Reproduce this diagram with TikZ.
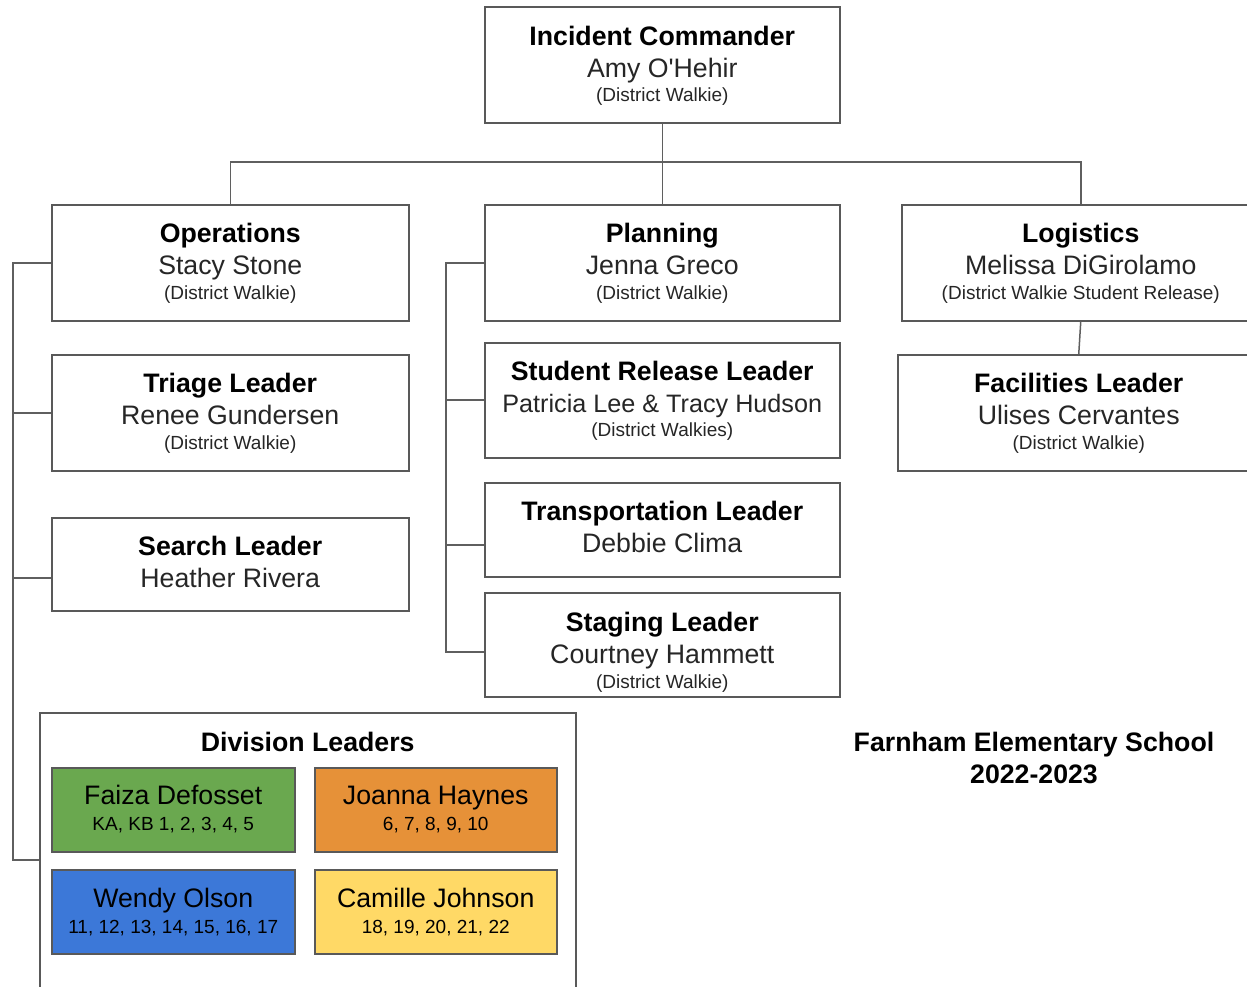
\documentclass[tikz,border=0pt]{standalone}
\usepackage{fontspec}
\setmainfont{Liberation Sans}
\newfontfamily\noligfont{Liberation Sans}
\usetikzlibrary{calc}
\definecolor{boxline}{HTML}{595959}
\definecolor{connc}{HTML}{5F5F5F}
\definecolor{txt}{HTML}{262626}
\definecolor{fgreen}{HTML}{6AA84F}
\definecolor{forange}{HTML}{E69138}
\definecolor{fblue}{HTML}{3C78D8}
\definecolor{fyellow}{HTML}{FFD966}
\begin{document}
\begin{tikzpicture}[x=1pt,y=-1pt,
  box/.style={draw=boxline, line width=1.5pt, anchor=north west, inner sep=0pt, fill=white},
  ttl/.style={anchor=base, font=\fontsize{26.7}{30}\selectfont\bfseries, text=black, inner sep=0pt},
  nm/.style={anchor=base, font=\fontsize{26.7}{30}\selectfont, text=txt, inner sep=0pt},
  sm/.style={anchor=base, font=\fontsize{19}{22}\selectfont, text=txt, inner sep=0pt},
  conn/.style={draw=connc, line width=1.5pt}]
\useasboundingbox (0,0) rectangle (1247,986);

% boxes
\node[box, minimum width=355pt, minimum height=116pt] (ic) at (484,6) {};
\node[box, minimum width=357pt, minimum height=116pt] (ops) at (51,204) {};
\node[box, minimum width=355pt, minimum height=116pt] (plan) at (484,204) {};
\node[box, minimum width=358pt, minimum height=116pt] (log) at (901,204) {};
\node[box, minimum width=362pt, minimum height=116pt] (fac) at (897,354) {};
\node[box, minimum width=357pt, minimum height=116pt] (tri) at (51,354) {};
\node[box, minimum width=357pt, minimum height=93pt] (srch) at (51,517) {};
\node[box, minimum width=355pt, minimum height=115pt] (srl) at (484,342) {};
\node[box, minimum width=355pt, minimum height=94pt] (trn) at (484,482) {};
\node[box, minimum width=355pt, minimum height=104pt] (stg) at (484,592) {};
\node[box, minimum width=536pt, minimum height=300pt] (div) at (39,712) {};
\node[box, fill=fgreen, minimum width=243pt, minimum height=84pt] (fz) at (51,767) {};
\node[box, fill=forange, minimum width=242pt, minimum height=84pt] (jh) at (314,767) {};
\node[box, fill=fblue, minimum width=243pt, minimum height=84pt] (wo) at (51,869) {};
\node[box, fill=fyellow, minimum width=242pt, minimum height=84pt] (cj) at (314,869) {};

% texts
\node[ttl] (ict) at ($(ic.north)+(0,39)$) {Incident Commander};
\node[nm]  (icn) at ($(ic.north)+(0,71)$) {Amy O{\noligfont'}Hehir};
\node[sm]  (ics) at ($(ic.north)+(0,95.5)$) {(District Walkie)};

\node[ttl] (opst) at ($(ops.north)+(0,38.5)$) {Operations};
\node[nm]  (opsn) at ($(ops.north)+(0,70.5)$) {Stacy Stone};
\node[sm]  (opss) at ($(ops.north)+(0,95.5)$) {(District Walkie)};

\node[ttl] (plant) at ($(plan.north)+(0,38.5)$) {Planning};
\node[nm]  (plann) at ($(plan.north)+(0,70.5)$) {Jenna Greco};
\node[sm]  (plans) at ($(plan.north)+(0,95.5)$) {(District Walkie)};

\node[ttl] (logt) at ($(log.north)+(0,38.5)$) {Logistics};
\node[nm]  (logn) at ($(log.north)+(0,70.5)$) {Melissa DiGirolamo};
\node[sm]  (logs) at ($(log.north)+(0,95.5)$) {(District Walkie Student Release)};

\node[ttl] (fact) at ($(fac.north)+(0,38.5)$) {Facilities Leader};
\node[nm]  (facn) at ($(fac.north)+(0,70.5)$) {Ulises Cervantes};
\node[sm]  (facs) at ($(fac.north)+(0,95.5)$) {(District Walkie)};

\node[ttl] (trit) at ($(tri.north)+(0,38.5)$) {Triage Leader};
\node[nm]  (trin) at ($(tri.north)+(0,70.5)$) {Renee Gundersen};
\node[sm]  (tris) at ($(tri.north)+(0,95.5)$) {(District Walkie)};

\node[ttl] (srcht) at ($(srch.north)+(0,38.5)$) {Search Leader};
\node[nm]  (srchn) at ($(srch.north)+(0,70.5)$) {Heather Rivera};

\node[ttl] (srlt) at ($(srl.north)+(0,38.5)$) {Student Release Leader};
\node[nm, font=\fontsize{25.2}{30}\selectfont]  (srln) at ($(srl.north)+(0,70)$) {Patricia Lee \& Tracy Hudson};
\node[sm]  (srls) at ($(srl.north)+(0,94.5)$) {(District Walkies)};

\node[ttl] (trnt) at ($(trn.north)+(0,38.5)$) {Transportation Leader};
\node[nm]  (trnn) at ($(trn.north)+(0,70.5)$) {Debbie Clima};

\node[ttl] (stgt) at ($(stg.north)+(0,39.5)$) {Staging Leader};
\node[nm]  (stgn) at ($(stg.north)+(0,71.5)$) {Courtney Hammett};
\node[sm]  (stgs) at ($(stg.north)+(0,96)$) {(District Walkie)};

\node[ttl] (divt) at ($(div.north)+(0,39)$) {Division Leaders};
\node[nm, text=black] (fzn) at ($(fz.north)+(0,37.5)$) {Faiza Defosset};
\node[sm, text=black] (fzs) at ($(fz.north)+(0,63.5)$) {KA, KB 1, 2, 3, 4, 5};
\node[nm, text=black] (jhn) at ($(jh.north)+(0,37.5)$) {Joanna Haynes};
\node[sm, text=black] (jhs) at ($(jh.north)+(0,63.5)$) {6, 7, 8, 9, 10};
\node[nm, text=black] (won) at ($(wo.north)+(0,38)$) {Wendy Olson};
\node[sm, text=black] (wos) at ($(wo.north)+(0,64)$) {11, 12, 13, 14, 15, 16, 17};
\node[nm, text=black] (cjn) at ($(cj.north)+(0,38)$) {Camille Johnson};
\node[sm, text=black] (cjs) at ($(cj.north)+(0,64)$) {18, 19, 20, 21, 22};

\node[ttl] (school) at (1034,751) {Farnham Elementary School};
\node[ttl] (year) at (1034,783) {2022-2023};

% connector coordinates
\coordinate (bar) at (0,162);
\coordinate (lsp) at (13,0);
\coordinate (psp) at (446,0);
\coordinate (srchin) at ($(srch.north west)+(0,61)$);
\coordinate (srlin) at ($(srl.north west)+(0,58)$);
\coordinate (trnin) at ($(trn.north west)+(0,63)$);
\coordinate (stgin) at ($(stg.north west)+(0,60)$);
\coordinate (divin) at ($(div.north west)+(0,148)$);

% connectors
\draw[conn] (ic.south) -- (plan.north);
\draw[conn] (ops.north) -- (ops.north |- bar) -- (log.north |- bar) -- (log.north);
\draw[conn] (log.south) -- (fac.north);
\draw[conn] (ops.west) -- (lsp |- ops.west) -- (lsp |- divin) -- (divin);
\draw[conn] (tri.west) -- (lsp |- tri.west);
\draw[conn] (srchin) -- (lsp |- srchin);
\draw[conn] (plan.west) -- (psp |- plan.west) -- (psp |- stgin) -- (stgin);
\draw[conn] (srlin) -- (psp |- srlin);
\draw[conn] (trnin) -- (psp |- trnin);
\end{tikzpicture}
\end{document}
